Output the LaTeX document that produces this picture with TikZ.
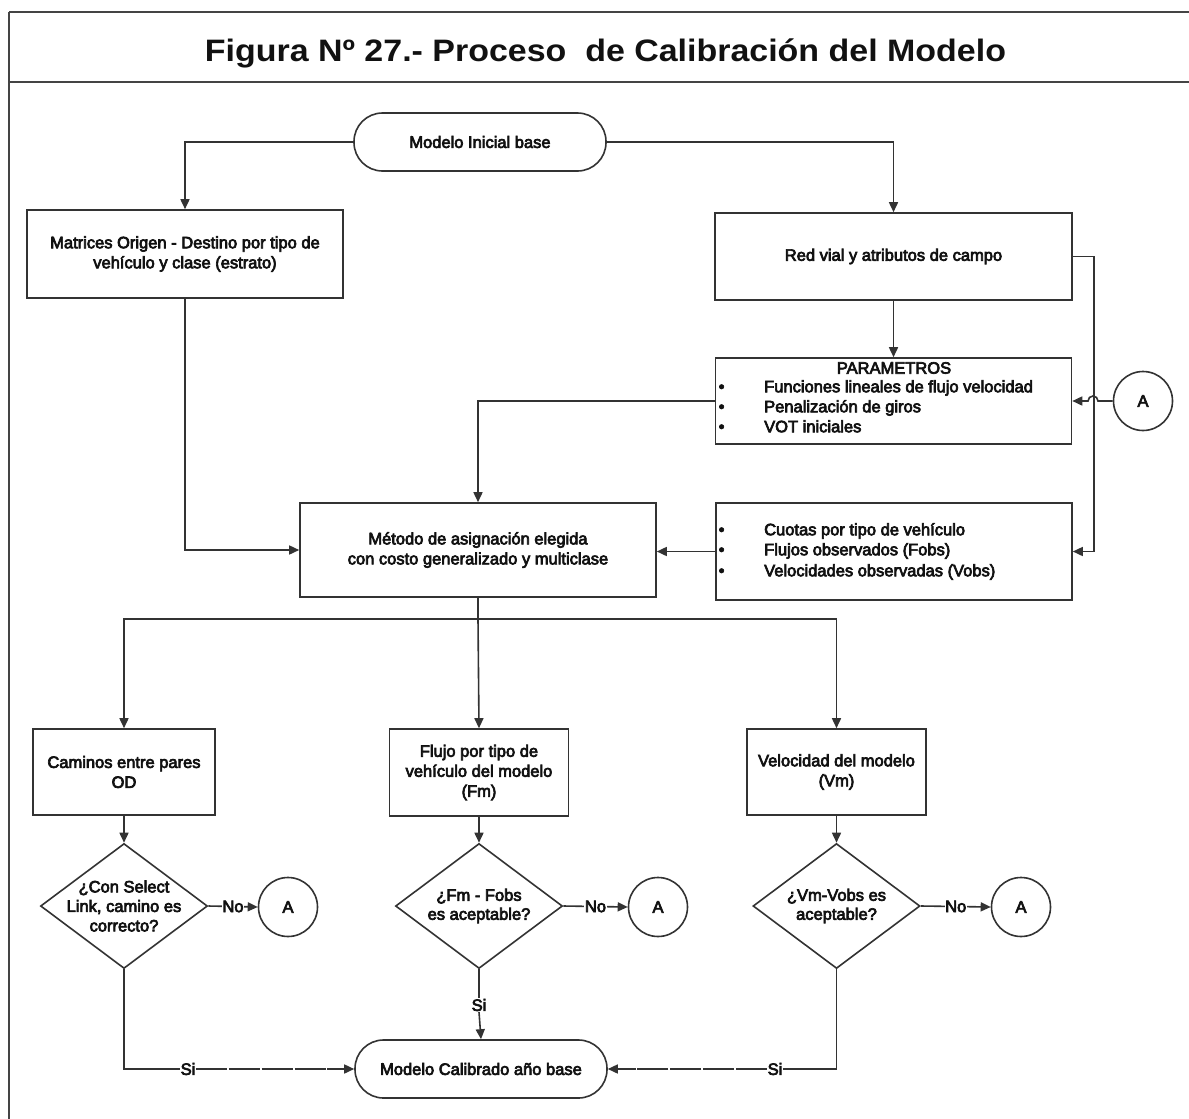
\documentclass[tikz,border=0pt]{standalone}
\usepackage{fontspec}
\setmainfont{Liberation Sans}
\newfontfamily\inkfont{Liberation Sans}[FakeBold=4]
\usetikzlibrary{arrows.meta,shapes.geometric,calc}

\definecolor{linecol}{HTML}{333333}
\definecolor{framecol}{HTML}{444444}
\definecolor{inkcol}{HTML}{111111}

\newcommand{\bodytext}{\inkfont\fontsize{16.5}{20}\selectfont\color{inkcol}}

\tikzset{
  ln/.style={draw=linecol, line width=1.6pt},
  arr/.style={ln, -{Triangle[length=10pt,width=9pt]}},
  box/.style={ln, rectangle, fill=white, inner sep=0pt, font=\bodytext, align=center},
  term/.style={ln, rectangle, rounded corners=28.5pt, minimum width=252pt,
               minimum height=58pt, inner sep=0pt, font=\bodytext},
  dia/.style={ln, diamond, inner sep=0pt, minimum width=167pt, minimum height=125pt},
  conn/.style={ln, circle, minimum size=59pt, inner sep=0pt, font=\bodytext},
  txt/.style={font=\bodytext, align=center, inner sep=0pt},
  item/.style={font=\bodytext, anchor=west, inner sep=0pt, text height=12pt, text depth=3.5pt},
  lbl/.style={font=\bodytext, fill=white, inner sep=0.6pt},
  frame/.style={draw=framecol, line width=2pt},
  brokenline/.style={dash pattern=on 31pt off 1.8pt},
}

\begin{document}
\begin{tikzpicture}[x=1pt, y=-1pt]
  \useasboundingbox[fill=white] (0,0) rectangle (1189,1119);

  % page frame and title band
  \draw[frame, line width=2.8pt] (9,12) -- (1189,12);
  \draw[frame] (9,1119) -- (9,12);
  \draw[frame, line width=2.4pt] (9,82) -- (1189,82);
  \node[anchor=base, inner sep=0pt, text=inkcol] (title) at (605.5,61)
    {\resizebox{801pt}{\height}{\fontsize{31}{31}\selectfont\bfseries Figura Nº 27.- Proceso\ \ de Calibración del Modelo}};

  % upper part
  \node[term] (start) at (480,142) {Modelo Inicial base};
  \node[box, minimum width=316pt, minimum height=88pt] (mat) at (185,254)
    {Matrices Origen - Destino por tipo de\\vehículo y clase (estrato)};
  \node[box, minimum width=357pt, minimum height=87pt] (red) at (893.5,256.5)
    {Red vial y atributos de campo};

  \node[box, minimum width=356pt, minimum height=86pt] (par) at (893.5,401) {};
  \node[txt] (partitle) at (894,368) {PARAMETROS};
  \node[item] (pb1) at (718.5,388) {•};
  \node[item] (pb2) at (718.5,408) {•};
  \node[item] (pb3) at (718.5,428) {•};
  \node[item] (pi1) at (764,388) {Funciones lineales de flujo velocidad};
  \node[item] (pi2) at (764,408) {Penalización de giros};
  \node[item] (pi3) at (764,428) {VOT iniciales};

  \node[box, minimum width=356pt, minimum height=94pt] (met) at (478,550)
    {Método de asignación elegida\\con costo generalizado y multiclase};

  \node[box, minimum width=356pt, minimum height=97pt] (cuo) at (894,551.5) {};
  \node[item] (cb1) at (718.5,531) {•};
  \node[item] (cb2) at (718.5,551) {•};
  \node[item] (cb3) at (718.5,572) {•};
  \node[item] (ci1) at (764,531) {Cuotas por tipo de vehículo};
  \node[item] (ci2) at (764,551) {Flujos observados (Fobs)};
  \node[item] (ci3) at (764,572) {Velocidades observadas (Vobs)};

  \node[conn] (a0) at (1143,401) {A};

  % lower part
  \node[box, minimum width=182pt, minimum height=86pt] (cam) at (124,772)
    {Caminos entre pares\\OD};
  \node[box, minimum width=179pt, minimum height=87pt] (flu) at (479,772.5)
    {Flujo por tipo de\\vehículo del modelo\\(Fm)};
  \node[box, minimum width=179pt, minimum height=86pt] (vel) at (836.5,772)
    {Velocidad del modelo\\(Vm)};

  \node[dia] (d1) at (124,906) {};
  \node[dia] (d2) at (479,906) {};
  \node[dia] (d3) at (836.5,906) {};
  \node[txt, font=\inkfont\fontsize{16.5}{19.5}\selectfont\color{inkcol}] (d1t) at (d1) {¿Con Select\\Link, camino es\\correcto?};
  \node[txt, font=\inkfont\fontsize{16.5}{19}\selectfont\color{inkcol}] (d2t) at (d2) {¿Fm - Fobs\\es aceptable?};
  \node[txt, font=\inkfont\fontsize{16.5}{19}\selectfont\color{inkcol}] (d3t) at (d3) {¿Vm-Vobs es\\aceptable?};

  \node[conn] (a1) at (288,907) {A};
  \node[conn] (a2) at (658,907) {A};
  \node[conn] (a3) at (1021,907) {A};

  \node[term] (end) at (481,1069) {Modelo Calibrado año base};

  % connectors, upper part
  \draw[arr] (start.west) -| (mat.north);
  \draw[arr] (start.east) -| (red.north);
  \draw[arr] (red.south) -- (par.north);
  \draw[arr] (red.east) -- ++(21,0) |- (cuo.east);
  \draw[arr] (a0.west) -- (1098,401) arc[start angle=0, end angle=-180, radius=5] -- (par.east);
  \draw[arr] (par.west) -| (met.north);
  \draw[arr] (mat.south) |- (met.west);
  \draw[arr] (cuo.west) -- (cuo.west -| met.east);

  % distribution to the three results
  \draw[ln] (met.south) -- ++(0,21) coordinate (bus);
  \draw[arr] (bus) -| (cam.north);
  \draw[arr] (bus) -| (vel.north);
  \draw[arr] (bus) -- (flu.north);

  \draw[arr] (cam.south) -- (d1.north);
  \draw[arr] (flu.south) -- (d2.north);
  \draw[arr] (vel.south) -- (d3.north);

  \draw[arr] (d1.east) -- node[lbl] (no1) {No} (a1.west);
  \draw[arr] (d2.east) -- node[lbl] (no2) {No} (a2.west);
  \draw[arr] (d3.east) -- node[lbl] (no3) {No} (a3.west);

  % accepted results lead to the calibrated model
  \node[lbl] (si1) at (188,1069) {Si};
  \node[lbl] (si2) at (479,1005) {Si};
  \node[lbl] (si3) at (775,1069) {Si};
  \draw[ln] (d1.south) |- (si1.west);
  \draw[arr, brokenline] (si1.east) -- (end.west);
  \draw[ln] (d2.south) -- (si2.north);
  \draw[arr] (si2.south) -- (end.north);
  \draw[ln] (d3.south) |- (si3.east);
  \draw[arr, brokenline] (si3.west) -- (end.east);
\end{tikzpicture}
\end{document}
